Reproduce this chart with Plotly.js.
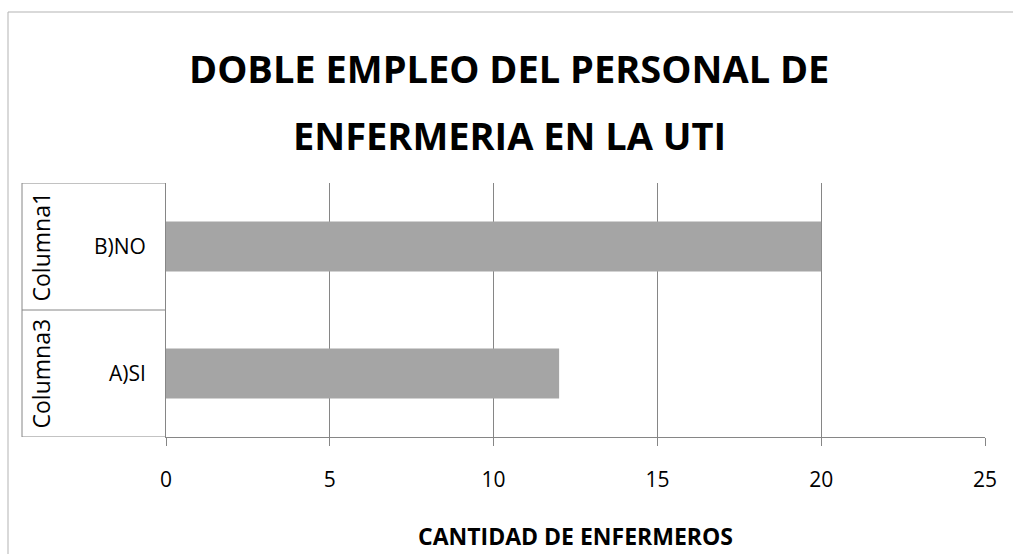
<!DOCTYPE html>
<html>
<head>
<meta charset="utf-8">
<script src="https://cdn.plot.ly/plotly-3.0.1.min.js"></script>
<style>html,body{margin:0;padding:0;background:#fff;}#chart{width:1013px;height:554px;}</style>
</head>
<body>
<div id="chart"></div>
<script>
var categories = ['A)SI', 'B)NO'];
var groups = ['Columna3', 'Columna1'];
var values = [12, 20];
var titleLines = ['DOBLE EMPLEO DEL PERSONAL DE', 'ENFERMERIA EN LA UTI'];
var xTitle = 'CANTIDAD DE ENFERMEROS';
var xTicks = [0, 5, 10, 15, 20, 25];

var FONT = '"Open Sans", Calibri, sans-serif';
var GRID = '#868686';
var W = 1013, H = 554, L = 166, R = 28, T = 183, B = 117;
var pw = W - L - R, ph = H - T - B;
function px(x){ return (x - L) / pw; }
function py(y){ return (H - B - y) / ph; }

var shapes = [
  {type:'rect', xref:'paper', yref:'paper', x0:px(8), x1:px(1040), y0:py(600), y1:py(12),
   line:{color:'#b3b3b3', width:1}, fillcolor:'rgba(0,0,0,0)', layer:'below'},
  {type:'line', xref:'paper', yref:'y', x0:px(22), x1:0, y0:-0.5, y1:-0.5, line:{color:GRID, width:1}},
  {type:'line', xref:'paper', yref:'y', x0:px(22), x1:0, y0:0.5, y1:0.5, line:{color:GRID, width:1}},
  {type:'line', xref:'paper', yref:'y', x0:px(22), x1:0, y0:1.5, y1:1.5, line:{color:GRID, width:1}},
  {type:'line', xref:'paper', yref:'y', x0:px(22), x1:px(22), y0:-0.5, y1:1.5, line:{color:GRID, width:1}}
];

var annotations = [];
titleLines.forEach(function(t, i){
  annotations.push({text:t, xref:'paper', yref:'paper', x:px(509), y:py(68 + i*67),
    xanchor:'center', yanchor:'middle', showarrow:false,
    font:{family:FONT, size:38, color:'#000', weight:700}});
});
groups.forEach(function(g, i){
  annotations.push({text:g, xref:'paper', yref:'y', x:px(40), y:i,
    xanchor:'center', yanchor:'middle', textangle:-90, showarrow:false,
    font:{family:FONT, size:23, color:'#000'}});
});

var data = [{
  type:'bar', orientation:'h', x:values, y:categories,
  marker:{color:'#a5a5a5', line:{width:0}}, hoverinfo:'none'
}];

var layout = {
  width:W, height:H,
  margin:{l:L, r:R, t:T, b:B, pad:0},
  paper_bgcolor:'#fff', plot_bgcolor:'#fff',
  showlegend:false,
  bargap:0.606,
  font:{family:FONT, color:'#000'},
  xaxis:{
    range:[0, 25], tickvals:xTicks, ticktext:xTicks.map(String),
    showgrid:true, gridcolor:GRID, gridwidth:1, zeroline:false,
    showline:true, linecolor:GRID, linewidth:1,
    ticks:'outside', ticklen:8, tickcolor:GRID, tickwidth:1,
    ticklabelstandoff:16,
    tickfont:{family:FONT, size:21, color:'#000'},
    title:{text:xTitle, font:{family:FONT, size:23, color:'#000', weight:700}, standoff:36}
  },
  yaxis:{
    type:'category', categoryorder:'array', categoryarray:categories,
    range:[-0.5, 1.5], showgrid:false, zeroline:false,
    showline:true, linecolor:GRID, linewidth:1, ticks:'',
    ticklabelstandoff:15,
    tickfont:{family:FONT, size:21, color:'#000'}
  },
  shapes:shapes,
  annotations:annotations
};

Plotly.newPlot('chart', data, layout, {staticPlot:true, displayModeBar:false});
</script>
</body>
</html>
